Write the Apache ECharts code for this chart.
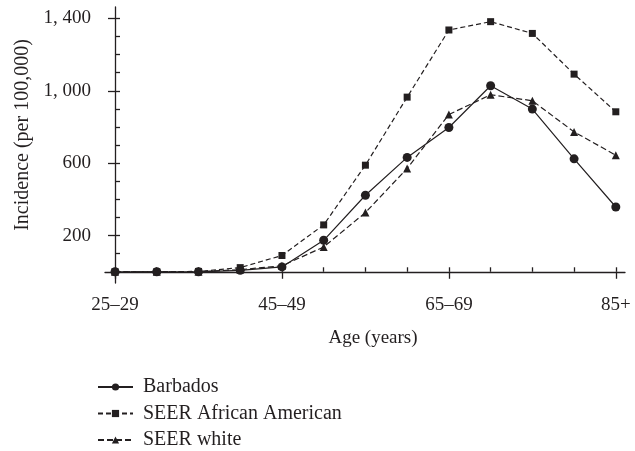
<!DOCTYPE html>
<html>
<head>
<meta charset="utf-8">
<script src="https://cdn.jsdelivr.net/npm/echarts@6/dist/echarts.min.js"></script>
<style>
html,body{margin:0;padding:0;background:#fff;}
#chart{width:635px;height:451px;}
</style>
</head>
<body>
<div id="chart"></div>
<script>
// Age groups (x categories)
var ageGroups = ['25–29','30–34','35–39','40–44','45–49','50–54','55–59','60–64','65–69','70–74','75–79','80–84','85+'];
var labeledAges = ['25–29','45–49','65–69','85+'];
// Incidence per 100,000
var barbados = [0, 0, 0, 8, 27, 174, 423, 632, 797, 1028, 899, 624, 358];
var seerAfricanAmerican = [0, 0, 2, 23, 90, 259, 589, 965, 1336, 1382, 1317, 1092, 884];
var seerWhite = [0, 0, 0, 12, 33, 137, 327, 571, 869, 978, 945, 773, 644];
// Y ticks
var yTicks = [0,100,200,300,400,500,600,700,800,900,1000,1100,1200,1300,1400];
var yLabels = [200, 600, 1000, 1400];

var FONT = 'Liberation Serif';
var INK = '#231f20';

function pairs(arr){ return arr.map(function(v,i){ return [i, v]; }); }
var allIdx = ageGroups.map(function(_,i){ return i; });
var labIdx = labeledAges.map(function(a){ return ageGroups.indexOf(a); });

var chart = echarts.init(document.getElementById('chart'));
var xCommon = { type:'value', min:-0.24, max:12.22, splitLine:{show:false} };
var yCommon = { type:'value', min:-62, max:1463, splitLine:{show:false} };

chart.setOption({
  animation:false,
  backgroundColor:'#fff',
  textStyle:{fontFamily:FONT, color:INK},
  grid:{left:105, right:10, top:7, bottom:168, containLabel:false},
  xAxis:[
    Object.assign({}, xCommon, {
      name:'Age (years)', nameLocation:'middle', nameGap:46,
      nameTextStyle:{fontFamily:FONT, fontSize:19, color:INK, padding:[0,0,0,16]},
      axisLine:{show:true, lineStyle:{color:INK, width:1.3}},
      axisTick:{show:true, length:7, customValues:labIdx, lineStyle:{color:INK, width:1.3}},
      axisLabel:{show:true, margin:13, customValues:labIdx, fontFamily:FONT, fontSize:19, color:INK,
        formatter:function(v){ return ageGroups[Math.round(v)]; }}
    }),
    Object.assign({}, xCommon, {
      axisLine:{show:false},
      axisTick:{show:true, length:4.5, customValues:allIdx, lineStyle:{color:INK, width:1.3}},
      axisLabel:{show:false}
    })
  ],
  yAxis:[
    Object.assign({}, yCommon, {
      name:'Incidence (per 100,000)', nameLocation:'middle', nameGap:72, nameRotate:90,
      nameTextStyle:{fontFamily:FONT, fontSize:20, color:INK, padding:[0,0,0,20]},
      axisLine:{show:true, lineStyle:{color:INK, width:1.3}},
      axisTick:{show:true, length:7, customValues:yLabels, lineStyle:{color:INK, width:1.3}},
      axisLabel:{show:true, margin:14, customValues:yLabels, fontFamily:FONT, fontSize:19, color:INK,
        formatter:function(v){ return v >= 1000 ? Math.floor(v/1000) + ', ' + String(v%1000).padStart(3,'0') : String(v); }}
    }),
    Object.assign({}, yCommon, {
      axisLine:{show:false},
      axisTick:{show:true, length:5, customValues:yTicks, lineStyle:{color:INK, width:1.3}},
      axisLabel:{show:false}
    })
  ],
  legend:{
    orient:'vertical', left:97, top:377, height:120, padding:0, itemWidth:35, itemHeight:9, itemGap:6.5,
    textStyle:{fontFamily:FONT, fontSize:20, color:INK, padding:[0,0,0,5]},
    data:['Barbados','SEER African American','SEER white']
  },
  series:[
    {name:'Barbados', type:'line', data:pairs(barbados), symbol:'circle', symbolSize:9,
      itemStyle:{color:INK}, lineStyle:{color:INK, width:1.2, type:'solid'}},
    {name:'SEER African American', type:'line', data:pairs(seerAfricanAmerican), symbol:'rect', symbolSize:7,
      itemStyle:{color:INK}, lineStyle:{color:INK, width:1.2, type:[5,3]}},
    {name:'SEER white', type:'line', data:pairs(seerWhite), symbol:'triangle', symbolSize:8,
      itemStyle:{color:INK}, lineStyle:{color:INK, width:1.2, type:[6,3]}}
  ]
});
</script>
</body>
</html>
